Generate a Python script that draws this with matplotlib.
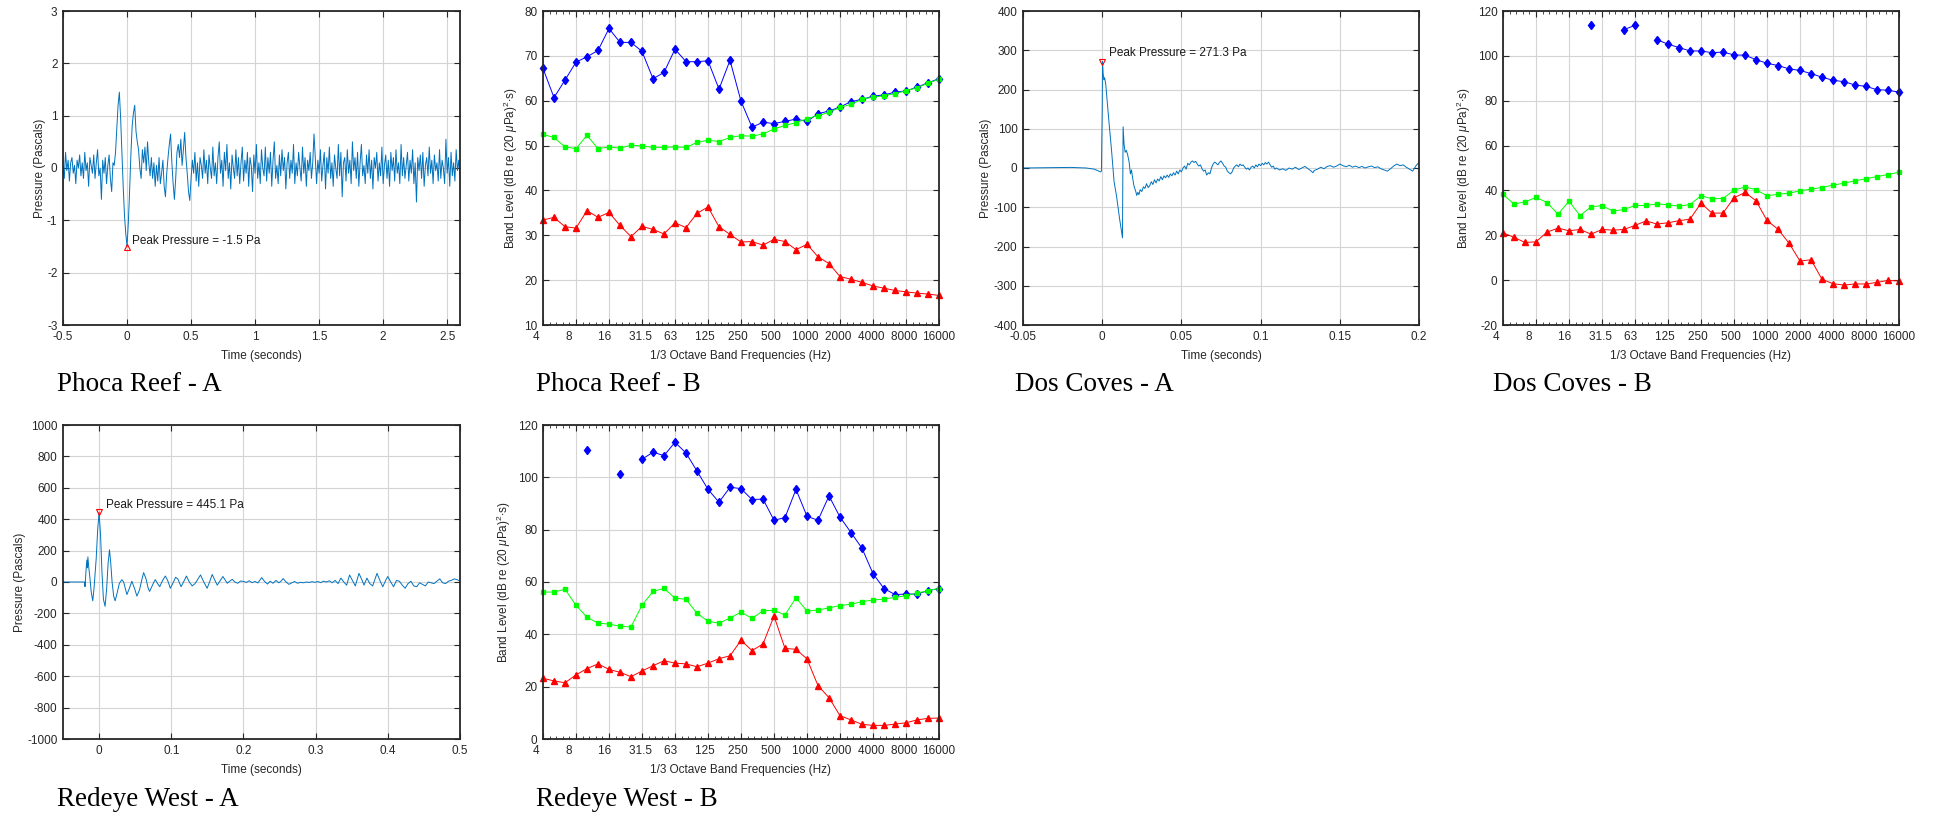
import numpy as np
import matplotlib
matplotlib.use("Agg")
import matplotlib.pyplot as plt
from matplotlib.ticker import MultipleLocator, AutoMinorLocator, FuncFormatter

plt.rcParams["font.family"] = ["Liberation Sans", "DejaVu Sans"]
plt.rcParams["axes.unicode_minus"] = False
plt.rcParams["mathtext.fontset"] = "custom"
plt.rcParams["mathtext.rm"] = "Liberation Sans"
plt.rcParams["mathtext.it"] = "Liberation Sans:italic"

nan = np.nan

# 1/3 octave band centres (Hz), plotted by band number
band_freqs = [4, 5, 6.3, 8, 10, 12.5, 16, 20, 25, 31.5, 40, 50, 63, 80, 100, 125,
              160, 200, 250, 315, 400, 500, 630, 800, 1000, 1250, 1600, 2000,
              2500, 3150, 4000, 5000, 6300, 8000, 10000, 12500, 16000]
freq_labels = ["4", "8", "16", "31.5", "63", "125", "250", "500", "1000",
               "2000", "4000", "8000", "16000"]

# ---- Phoca Reef ----
phoca_p = [
    0.05, -0.2, 0.3, -0.05, 0.15, -0.25, 0.1, 0.2, -0.1, 0.05,
    -0.3, 0.15, 0.0, 0.25, -0.15, 0.1, -0.2, 0.3, -0.05, 0.1,
    -0.35, 0.2, 0.05, -0.1, 0.25, -0.2, 0.1, 0.35, -0.15, 0.0,
    -0.6, 0.15, -0.1, 0.2, -0.3, 0.05, 0.25, -0.2, -0.45, 0.1,
    0.05, 0.3, 0.75, 1.2, 1.45, 0.95, 0.3, -0.35, -0.9, -1.25,
    -1.5, -1.05, -0.45, 0.25, 0.8, 1.05, 1.2, 0.7, 0.5, 0.35,
    0.0, -0.2, 0.35, 0.1, 0.4, -0.05, 0.5, 0.1, -0.15, 0.2,
    -0.2, 0.1, -0.35, 0.05, -0.25, 0.2, -0.3, -0.1, 0.15, -0.35,
    -0.55, -0.1, 0.2, 0.45, 0.65, 0.1, -0.3, -0.6, -0.2, 0.3,
    0.45, 0.2, 0.55, 0.05, 0.35, 0.68, 0.2, -0.1, -0.45, -0.62,
    -0.2, 0.15, -0.1, 0.3, -0.25, 0.1, -0.35, 0.2, 0.05, -0.2,
    0.35, -0.1, 0.15, -0.3, 0.25, 0.0, -0.2, 0.4, -0.15, 0.1,
    -0.3, 0.2, 0.5, -0.1, 0.15, -0.35, 0.3, -0.05, 0.45, -0.2,
    0.1, -0.4, 0.25, 0.0, -0.2, 0.35, -0.15, 0.2, -0.3, 0.1,
    0.4, -0.25, 0.15, -0.1, 0.3, -0.35, 0.2, 0.05, -0.45, 0.25,
    -0.1, 0.45, -0.2, 0.1, -0.3, 0.35, 0.0, -0.15, 0.4, -0.25,
    0.2, -0.1, 0.3, -0.35, 0.15, 0.5, -0.2, 0.05, -0.3, 0.25,
    -0.15, 0.35, -0.05, 0.2, -0.4, 0.1, 0.3, -0.2, 0.15, -0.1,
    0.45, -0.3, 0.1, -0.15, 0.3, 0.0, -0.25, 0.4, -0.1, 0.2,
    -0.35, 0.15, -0.05, 0.3, -0.2, 0.1, 0.65, 0.2, -0.3, 0.15,
    -0.1, 0.35, -0.25, 0.05, 0.3, -0.4, 0.2, -0.1, 0.4, -0.2,
    0.1, -0.35, 0.25, 0.0, -0.2, 0.45, -0.15, 0.3, -0.55, 0.1,
    0.2, -0.25, 0.35, -0.1, 0.15, -0.3, 0.5, -0.05, 0.2, -0.2,
    0.3, -0.35, 0.1, 0.45, -0.15, 0.05, -0.3, 0.25, -0.1, 0.35,
    -0.2, 0.15, -0.4, 0.2, 0.0, 0.3, -0.25, 0.1, -0.15, 0.4,
    -0.3, 0.05, 0.25, -0.2, 0.15, -0.35, 0.3, -0.05, 0.2, -0.25,
    0.35, -0.1, 0.1, -0.3, 0.45, -0.15, 0.2, -0.2, 0.05, 0.3,
    -0.25, 0.15, -0.1, 0.35, -0.3, 0.1, -0.65, 0.2, -0.05, 0.25,
    -0.2, 0.3, -0.35, 0.05, 0.2, -0.15, 0.4, -0.1, 0.15, -0.3,
    0.25, -0.05, 0.1, -0.25, 0.35, -0.2, 0.15, 0.0, -0.3, 0.55,
    -0.1, 0.2, -0.35, 0.3, -0.15, 0.1, -0.25, 0.35, -0.05, 0.15, -0.2,
]
phoca_t = np.linspace(-0.5, 2.6, len(phoca_p))  # 10 ms sampling
phoca_peak = (0.0, -1.5)

phoca_blue = [67.2, 60.7, 64.6, 68.6, 69.8, 71.2, 76.1, 73.0, 73.0, 71.0, 64.9, 66.3,
              71.5, 68.7, 68.7, 68.9, 62.6, 69.0, 59.9, 54.1, 55.2, 54.9, 55.4, 55.9,
              55.4, 57.1, 57.7, 58.6, 59.8, 60.3, 61.0, 61.3, 61.9, 62.2, 63.0, 64.0, 64.9]
phoca_green = [52.5, 51.8, 49.7, 49.3, 52.3, 49.3, 49.7, 49.4, 50.1, 49.9, 49.6, 49.6,
               49.7, 49.6, 50.7, 51.2, 50.9, 51.8, 52.2, 52.1, 52.6, 53.7, 54.5, 55.1,
               56.0, 56.7, 57.4, 58.5, 59.2, 60.3, 60.8, 61.1, 61.6, 62.2, 62.9, 63.9, 64.8]
phoca_red = [33.4, 34.0, 31.9, 31.6, 35.5, 34.0, 35.1, 32.2, 29.7, 32.0, 31.3, 30.3,
             32.8, 31.7, 34.9, 36.3, 31.9, 30.2, 28.5, 28.6, 27.8, 29.1, 28.6, 26.8,
             28.0, 25.2, 23.7, 20.8, 20.2, 19.5, 18.7, 18.2, 17.7, 17.4, 17.1, 16.9, 16.6]

# ---- Dos Coves ----
dos_t = [-0.05, -0.04, -0.03, -0.02, -0.01, -0.005, -0.001, -0.0005, 0.0, 0.0002,
         0.0006, 0.0011, 0.0015, 0.0022, 0.004, 0.006, 0.0075, 0.009, 0.011, 0.0128,
         0.0132, 0.0138, 0.0145, 0.0152, 0.016, 0.017, 0.0178, 0.0185, 0.019, 0.020,
         0.0212, 0.0218, 0.0225, 0.0232, 0.024, 0.025, 0.026, 0.027, 0.028, 0.029,
         0.030, 0.031, 0.032, 0.033, 0.034, 0.035, 0.036, 0.037, 0.038, 0.039,
         0.040, 0.041, 0.042, 0.043, 0.044, 0.045, 0.046, 0.047, 0.048, 0.049,
         0.050, 0.051, 0.052, 0.053, 0.054, 0.055, 0.056, 0.057, 0.058, 0.059,
         0.060, 0.061, 0.062, 0.063, 0.064, 0.065, 0.066, 0.067, 0.068, 0.069,
         0.070, 0.071, 0.072, 0.073, 0.074, 0.075, 0.076, 0.077, 0.078, 0.079,
         0.080, 0.081, 0.082, 0.083, 0.084, 0.085, 0.086, 0.087, 0.088, 0.089,
         0.090, 0.091, 0.092, 0.093, 0.094, 0.095, 0.096, 0.097, 0.098, 0.099,
         0.100, 0.101, 0.102, 0.103, 0.104, 0.105, 0.106, 0.107, 0.108, 0.109,
         0.110, 0.112, 0.114, 0.116, 0.118, 0.120, 0.122, 0.124, 0.126, 0.128,
         0.130, 0.132, 0.133, 0.134, 0.136, 0.138, 0.140, 0.142, 0.144, 0.146,
         0.148, 0.150, 0.152, 0.154, 0.156, 0.158, 0.160, 0.162, 0.164, 0.166,
         0.168, 0.170, 0.172, 0.174, 0.176, 0.178, 0.180, 0.182, 0.184, 0.186,
         0.188, 0.190, 0.192, 0.194, 0.196, 0.198, 0.200]
dos_p = [0, 0.5, 1, 1.5, 0, -3, -10, -8, 150, 271.3,
         240, 225, 230, 215, 130, 40, -35, -70, -130, -178,
         105, 60, 40, 45, 35, 15, -15, -5, -20, -45,
         -60, -70, -62, -68, -55, -60, -48, -52, -40, -50,
         -45, -35, -42, -30, -38, -28, -33, -22, -30, -20,
         -25, -18, -24, -15, -20, -12, -18, -8, -15, -5,
         -10, 0, 5, -3, 12, 8, 15, 18, 14, 17,
         10, 5, 8, -2, -8, -5, -18, -12, -15, 0,
         10, 15, 12, 8, 14, 18, 12, 5, 2, -8,
         -12, -15, -10, 0, 5, 8, 3, 10, 6, 8,
         2, -3, 0, -5, 2, 5, 0, 8, 3, 10,
         6, 12, 8, 14, 10, 15, 8, 2, 5, -3,
         0, -5, -2, -6, 0, -3, 2, -4, 0, 4,
         -2, -8, -12, -6, -3, 2, -2, 4, 6, 2,
         5, 10, 6, 3, 7, 2, 5, 1, 4, 0,
         3, 5, 1, 3, -2, -5, -8, -2, 5, 10,
         6, 8, 2, -3, -8, 5, 15]
dos_peak = (0.0, 271.3)

dos_blue = [nan, nan, nan, nan, nan, nan, nan, nan, 113.6, nan, nan, 111.7,
            113.6, nan, 107.2, 105.2, 103.7, 102.2, 102.2, 101.4, 101.7, 100.4, 100.3, 98.3,
            96.7, 95.7, 94.2, 93.5, 92.1, 90.5, 89.1, 88.5, 87.0, 86.4, 84.9, 84.7, 83.8]
dos_green = [38.3, 33.9, 34.9, 36.9, 34.6, 29.4, 35.2, 28.8, 32.7, 33.2, 30.8, 31.5,
             33.3, 33.3, 34.0, 33.6, 33.0, 33.7, 37.6, 36.3, 36.4, 40.1, 41.5, 40.4,
             37.6, 38.3, 38.8, 39.8, 40.6, 41.3, 42.4, 43.2, 44.3, 45.2, 46.2, 47.1, 48.1]
dos_red = [21.1, 19.1, 16.8, 17.1, 21.4, 23.2, 22.0, 22.6, 20.5, 22.6, 22.3, 22.6,
           24.4, 26.4, 25.0, 25.6, 26.5, 27.2, 34.3, 29.9, 29.9, 36.7, 39.1, 35.4,
           26.6, 22.7, 16.5, 8.5, 9.1, 0.4, -1.6, -2.2, -1.7, -1.7, -1.0, -0.1, -0.4]

# ---- Redeye West ----
red_t = [-0.05, -0.03, -0.02, -0.0195, -0.018, -0.017, -0.0162, -0.0155, -0.0145, -0.013,
         -0.011, -0.0088, -0.007, -0.004, -0.002, 0.0, 0.002, 0.004, 0.006, 0.0083,
         0.0105, 0.0125, 0.0144, 0.016, 0.018, 0.0202, 0.0222, 0.025, 0.028, 0.0315,
         0.034, 0.0385, 0.042, 0.0454, 0.049, 0.0524, 0.056, 0.0595, 0.0617, 0.065,
         0.068, 0.070, 0.073, 0.0765, 0.0779, 0.081, 0.084, 0.088, 0.0918, 0.095,
         0.0987, 0.102, 0.106, 0.109, 0.1136, 0.117, 0.121, 0.125, 0.1289, 0.133,
         0.137, 0.1405, 0.144, 0.1497, 0.153, 0.1567, 0.160, 0.1637, 0.168, 0.1715,
         0.175, 0.1776, 0.181, 0.1845, 0.188, 0.192, 0.196, 0.200, 0.204, 0.208,
         0.212, 0.216, 0.220, 0.2253, 0.229, 0.2332, 0.237, 0.241, 0.245, 0.249,
         0.252, 0.255, 0.259, 0.263, 0.267, 0.271, 0.275, 0.279, 0.283, 0.287,
         0.291, 0.295, 0.299, 0.303, 0.307, 0.311, 0.315, 0.319, 0.323, 0.327,
         0.331, 0.335, 0.339, 0.343, 0.347, 0.351, 0.355, 0.360, 0.364, 0.367,
         0.371, 0.375, 0.379, 0.385, 0.389, 0.393, 0.397, 0.400, 0.404, 0.408,
         0.412, 0.416, 0.420, 0.424, 0.428, 0.432, 0.436, 0.440, 0.444, 0.448,
         0.452, 0.456, 0.460, 0.464, 0.468, 0.472, 0.476, 0.480, 0.484, 0.488,
         0.492, 0.496, 0.500]
red_p = [0, 0, 0, -30, 80, 140, 90, 160, 100, 40,
         -60, -120, -40, 150, 330, 445.1, 300, 60, -110, -155,
         -40, 120, 205, 130, 0, -90, -120, -70, -10, 15,
         0, -80, -40, 5, -40, -90, -50, 20, 60, 20,
         -40, -60, -30, 5, 15, -10, -30, 10, 38, 10,
         -40, -10, 30, 20, -30, 0, 38, 0, -25, -10,
         20, 45, 10, -40, 0, 48, 15, -20, 10, 35,
         10, -8, 5, 17, 0, -8, 6, 4, -3, 8,
         -4, 3, -6, 28, 5, -13, 5, -8, 10, -5,
         5, 22, 0, -15, -5, 3, -8, -2, -5, 0,
         -3, 2, -2, 3, -4, 5, 0, 8, -5, 10,
         -10, 25, 0, -20, 45, 10, -25, 55, 15, -20,
         25, -10, -25, 55, 10, -30, 10, 35, 0, -30,
         10, 5, -20, -40, -10, 5, -25, -30, -5, -15,
         -25, 0, -5, -10, 5, 20, -5, -10, 5, 10,
         20, 15, 5]
red_peak = (0.0, 445.1)

redeye_blue = [nan, nan, nan, nan, 110.4, nan, nan, 101.3, nan, 106.9, 109.6, 108.3,
               113.4, 109.3, 102.4, 95.4, 90.5, 96.2, 95.7, 91.5, 91.7, 83.6, 84.6, 95.4,
               85.1, 83.6, 92.9, 84.8, 78.9, 72.9, 63.2, 57.5, 55.2, 55.4, 55.4, 56.7, 57.5]
redeye_green = [56.1, 56.2, 57.2, 51.1, 46.5, 44.3, 43.9, 43.1, 42.8, 51.1, 56.4, 57.6,
                53.8, 53.4, 48.0, 45.0, 44.3, 46.2, 48.5, 46.1, 49.0, 49.2, 47.4, 54.0,
                48.9, 49.3, 50.1, 51.0, 51.5, 52.5, 53.1, 53.5, 54.1, 54.8, 55.7, 56.7, 57.5]
redeye_red = [23.2, 22.2, 21.5, 24.5, 26.9, 28.7, 26.6, 25.5, 23.8, 26.0, 28.0, 29.9,
              29.0, 28.7, 27.6, 29.0, 30.7, 31.8, 37.7, 33.8, 36.3, 47.0, 34.6, 34.3,
              30.6, 20.4, 15.8, 8.9, 7.3, 5.6, 5.2, 5.2, 5.7, 6.2, 7.3, 7.9, 8.0]

W, H = 1934, 814
fig = plt.figure(figsize=(W / 100, H / 100), dpi=100)

# axes boxes in pixels: left, top, right, bottom
cols = [(63, 460), (543, 939), (1023, 1419), (1503, 1899)]
rows = [(11, 325), (425, 739)]

def make_ax(col, row):
    x0, x1 = cols[col]
    y0, y1 = rows[row]
    ax = fig.add_axes([x0 / W, 1 - y1 / H, (x1 - x0) / W, (y1 - y0) / H])
    ax.grid(True, color="#d4d4d4", lw=0.8)
    ax.set_axisbelow(True)
    ax.tick_params(direction="in", top=True, right=True, length=4, width=0.8,
                   labelsize=8.5, colors="#262626", pad=4)
    for s in ax.spines.values():
        s.set_linewidth(1.3)
        s.set_color("#262626")
    return ax

gfmt = FuncFormatter(lambda v, pos: "%g" % round(v, 6))

def wave_panel(ax, t, p, peak, up, xlim, xstep, ylim, ystep, txt_xy):
    ax.plot(t, p, color="#0072bd", lw=0.7)
    ax.plot(peak[0], peak[1], marker="^" if up else "v", mfc="none", mec="#ff0000",
            ms=5, mew=0.8, clip_on=False)
    ax.text(txt_xy[0], txt_xy[1], "Peak Pressure = %.1f Pa" % peak[1], fontsize=8.5,
            va="center", ha="left", color="#1a1a1a")
    ax.set_xlim(xlim)
    ax.set_ylim(ylim)
    ax.xaxis.set_major_locator(MultipleLocator(xstep))
    ax.yaxis.set_major_locator(MultipleLocator(ystep))
    ax.xaxis.set_major_formatter(gfmt)
    ax.yaxis.set_major_formatter(gfmt)
    ax.set_xlabel("Time (seconds)", fontsize=8.5, color="#262626", labelpad=5)
    ax.set_ylabel("Pressure (Pascals)", fontsize=8.5, color="#262626", labelpad=1)

def band_panel(ax, blue, green, red, ylim, ystep):
    x = np.arange(len(band_freqs))
    ax.plot(x, blue, "-d", color="#0000ff", ms=4.5, lw=0.7, clip_on=False)
    ax.plot(x, green, "-s", color="#00ff00", ms=3.5, lw=0.7, clip_on=False)
    ax.plot(x, red, "-^", color="#ff0000", ms=4, lw=0.7, clip_on=False)
    ax.set_xlim(0, len(band_freqs) - 1)
    ax.set_ylim(ylim)
    ax.set_xticks(x[::3])
    ax.set_xticklabels([s.ljust(5) for s in freq_labels])
    ax.xaxis.set_minor_locator(AutoMinorLocator(5))
    ax.tick_params(which="minor", direction="in", top=True, length=2, width=0.6,
                   colors="#262626")
    ax.yaxis.set_major_locator(MultipleLocator(ystep))
    ax.yaxis.set_major_formatter(gfmt)
    ax.set_xlabel("1/3 Octave Band Frequencies (Hz)", fontsize=8.5, color="#262626",
                  labelpad=5)
    ax.set_ylabel(r"Band Level (dB re (20 $\mu$Pa)$^2$$\cdot$s)", fontsize=8.5,
                  color="#262626", labelpad=3)

ax = make_ax(0, 0)
wave_panel(ax, phoca_t, phoca_p, phoca_peak, True, (-0.5, 2.6), 0.5, (-3, 3), 1,
           (0.04, -1.4))
ax = make_ax(1, 0)
band_panel(ax, phoca_blue, phoca_green, phoca_red, (10, 80), 10)
ax = make_ax(2, 0)
wave_panel(ax, dos_t, dos_p, dos_peak, False, (-0.05, 0.2), 0.05, (-400, 400), 100,
           (0.0045, 292))
ax = make_ax(3, 0)
band_panel(ax, dos_blue, dos_green, dos_red, (-20, 120), 20)
ax = make_ax(0, 1)
wave_panel(ax, red_t, red_p, red_peak, False, (-0.05, 0.5), 0.1, (-1000, 1000), 200,
           (0.01, 490))
ax = make_ax(1, 1)
band_panel(ax, redeye_blue, redeye_green, redeye_red, (0, 120), 20)

# captions under each panel
captions = [("Phoca Reef - A", 57, 391), ("Phoca Reef - B", 536, 391),
            ("Dos Coves - A", 1015, 391), ("Dos Coves - B", 1493, 391),
            ("Redeye West - A", 57, 806), ("Redeye West - B", 536, 806)]
for txt, px, py in captions:
    fig.text(px / W, 1 - py / H, txt, family="Liberation Serif", fontsize=19.5,
             va="baseline", ha="left", color="black")

fig.savefig("out.png", dpi=100)
